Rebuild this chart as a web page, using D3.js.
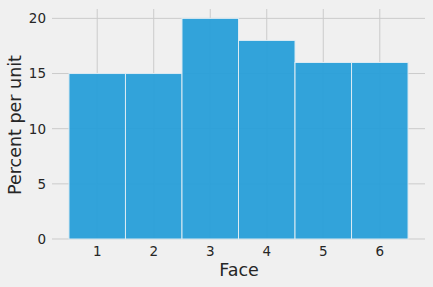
<!DOCTYPE html>
<html><head><meta charset="utf-8">
<script src="https://cdn.jsdelivr.net/npm/d3@7"></script>
<style>body{margin:0;background:#f0f0f0;} svg{display:block;}</style>
</head><body>
<svg id="c" width="433" height="287"></svg>
<script>
const faces = [1, 2, 3, 4, 5, 6];
const percents = [15, 15, 20, 18, 16, 16];
const yTicks = [0, 5, 10, 15, 20];
const xLabel = "Face";
const yLabel = "Percent per unit";

const W = 433, H = 287;
const L = 52, R = 425, T = 9, B = 239;
const svg = d3.select("#c");
svg.append("rect").attr("width", W).attr("height", H).attr("fill", "#f0f0f0");

const x = d3.scaleLinear().domain([0.2, 6.8]).range([L, R]);
const y = d3.scaleLinear().domain([0, 20.85]).range([B, T]);

// grid
const g = svg.append("g");
g.selectAll(".hg").data(yTicks).join("line")
  .attr("x1", L).attr("x2", R)
  .attr("y1", d => y(d)).attr("y2", d => y(d))
  .attr("stroke", "#cbcbcb").attr("stroke-width", 1);
g.selectAll(".vg").data(faces).join("line")
  .attr("x1", d => x(d)).attr("x2", d => x(d))
  .attr("y1", T).attr("y2", B)
  .attr("stroke", "#cbcbcb").attr("stroke-width", 1);

// bars
svg.append("g").selectAll("rect").data(faces).join("rect")
  .attr("x", d => x(d - 0.5))
  .attr("width", d => x(d + 0.5) - x(d - 0.5))
  .attr("y", (d, i) => y(percents[i]))
  .attr("height", (d, i) => y(0) - y(percents[i]))
  .attr("fill", "#2a9fd8").attr("fill-opacity", 0.96)
  .attr("stroke", "#dcebf3").attr("stroke-width", 1);

const font = "DejaVu Sans, sans-serif";
// y tick labels
svg.append("g").selectAll("text").data(yTicks).join("text")
  .attr("x", 46).attr("y", d => y(d))
  .attr("dy", "0.36em")
  .attr("text-anchor", "end")
  .attr("font-family", font).attr("font-size", 13.5).attr("fill", "#262626")
  .text(d => d);
// x tick labels
svg.append("g").selectAll("text").data(faces).join("text")
  .attr("x", d => x(d)).attr("y", 251)
  .attr("dy", "0.36em")
  .attr("text-anchor", "middle")
  .attr("font-family", font).attr("font-size", 13.5).attr("fill", "#262626")
  .text(d => d);
// axis labels
svg.append("text").attr("x", (L + R) / 2 + 0.5).attr("y", 270).attr("dy", "0.36em")
  .attr("text-anchor", "middle").attr("font-family", font).attr("font-size", 17.5)
  .attr("fill", "#262626").text(xLabel);
svg.append("text").attr("transform", "translate(15,125) rotate(-90)").attr("dy", "0.36em")
  .attr("text-anchor", "middle").attr("font-family", font).attr("font-size", 17.5)
  .attr("fill", "#262626").text(yLabel);
</script>
</body></html>
